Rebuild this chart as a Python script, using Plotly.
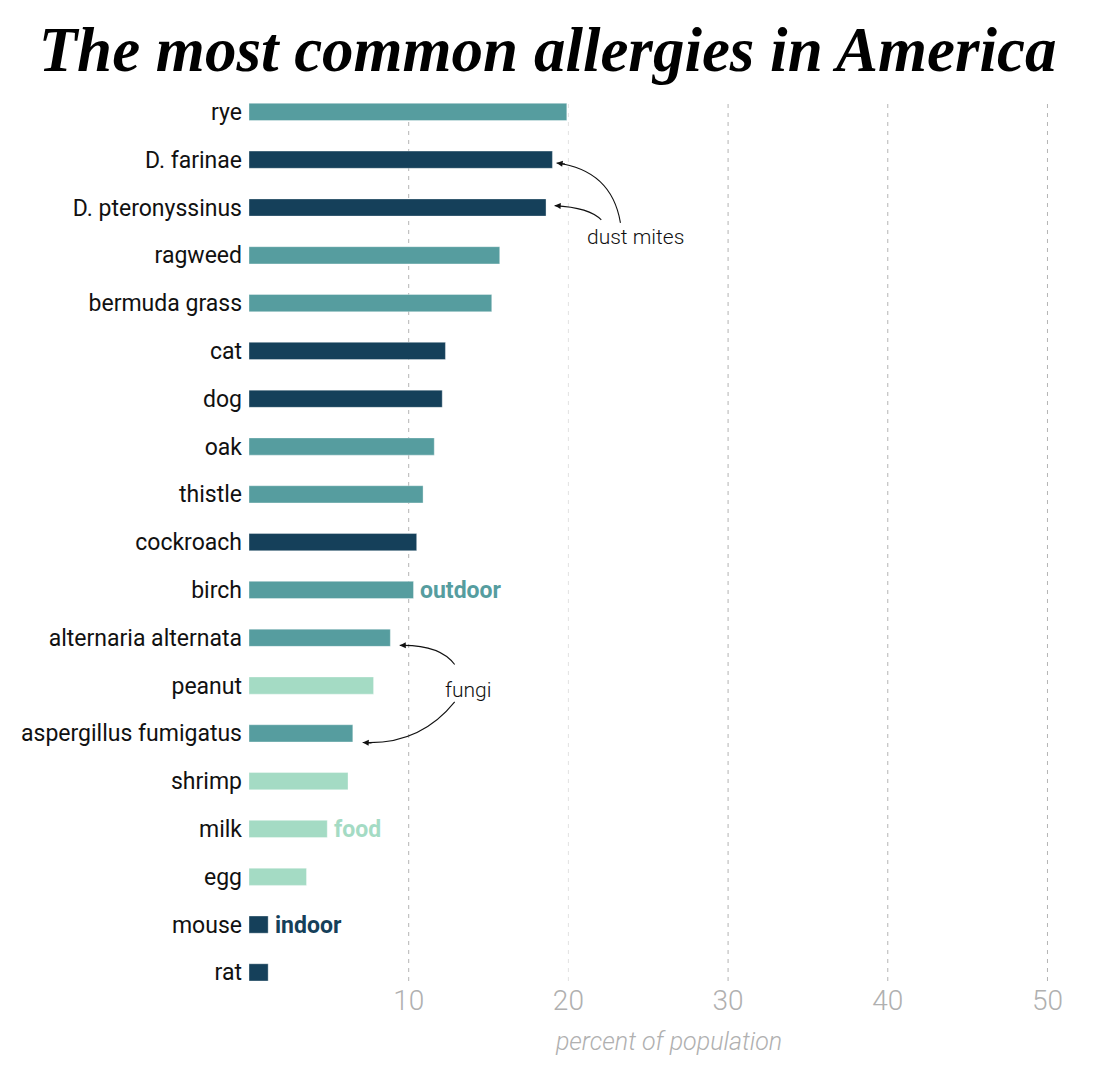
import plotly.graph_objects as go

# ---- data ----
categories = ["rye", "D. farinae", "D. pteronyssinus", "ragweed", "bermuda grass",
              "cat", "dog", "oak", "thistle", "cockroach", "birch",
              "alternaria alternata", "peanut", "aspergillus fumigatus", "shrimp",
              "milk", "egg", "mouse", "rat"]
values = [19.9, 19.0, 18.6, 15.7, 15.2, 12.3, 12.1, 11.6, 10.9, 10.5, 10.3,
          8.85, 7.8, 6.5, 6.2, 4.9, 3.6, 1.2, 1.2]
groups = ["outdoor", "indoor", "indoor", "outdoor", "outdoor", "indoor", "indoor",
          "outdoor", "outdoor", "indoor", "outdoor", "outdoor", "food", "outdoor",
          "food", "food", "food", "indoor", "indoor"]
group_names = ["outdoor", "indoor", "food"]
group_colors = {"outdoor": "#569d9f", "indoor": "#15405a", "food": "#a4dbc4"}
group_label_rows = {"outdoor": "birch", "food": "milk", "indoor": "mouse"}
x_ticks = [10, 20, 30, 40, 50]
grid_colors = ["#b4b4b4", "#e2e2e2", "#b4b4b4", "#b4b4b4", "#b4b4b4"]

LABEL_FONT = "Roboto, 'Noto Sans', sans-serif"
LIGHT_FONT = "Roboto, 'Open Sans', sans-serif"

fig = go.Figure()
for g in group_names:
    ys = [c for c, gg in zip(categories, groups) if gg == g]
    xs = [v for v, gg in zip(values, groups) if gg == g]
    fig.add_trace(go.Bar(
        x=xs, y=ys, orientation="h", width=0.36,
        marker=dict(color=group_colors[g], line=dict(color="rgba(255,255,255,0.35)", width=1)),
        showlegend=False, hoverinfo="x+y", name=g))

# gridlines
for t, c in zip(x_ticks, grid_colors):
    fig.add_shape(type="line", xref="x", yref="paper", x0=t, x1=t, y0=0, y1=0.987,
                  line=dict(color=c, width=1, dash="4px,5px"), layer="below")

# group labels at the end of bars
for g in group_names:
    row = group_label_rows[g]
    v = values[categories.index(row)]
    fig.add_annotation(x=v, y=row, text=f"<b>{g}</b>", showarrow=False,
                       xanchor="left", yanchor="middle", xshift=5, yshift=-1,
                       font=dict(family=LABEL_FONT, size=23, color=group_colors[g]))

# curved callouts: (start, control, end) in data units (x, category index)
callouts = [
    ((23.26, 2.32), (22.70, 1.22), (19.26, 1.07)),
    ((22.06, 2.26), (21.33, 2.00), (19.14, 1.96)),
    ((12.88, 11.56), (11.94, 11.14), (9.44, 11.16)),
    ((12.88, 12.34), (10.69, 13.25), (7.12, 13.19)),
]
for (sx, sy), (cx, cy), (ex, ey) in callouts:
    fig.add_shape(type="path", xref="x", yref="y",
                  path=f"M {sx},{sy} Q {cx},{cy} {ex},{ey}",
                  line=dict(color="#111111", width=1.1))
    # arrowhead tangent to curve end
    fig.add_annotation(x=ex, y=ey, ax=ex + (cx - ex) * 0.18, ay=ey + (cy - ey) * 0.18,
                       axref="x", ayref="y", xref="x", yref="y", text="",
                       showarrow=True, arrowhead=2, arrowsize=1.1, arrowwidth=1.1,
                       arrowcolor="#111111", standoff=0)

fig.add_annotation(x=24.2, y=2.62, text="dust mites", showarrow=False,
                   font=dict(family=LIGHT_FONT, size=21, color="#111111", weight=300))
fig.add_annotation(x=13.69, y=12.09, text="fungi", showarrow=False,
                   font=dict(family=LIGHT_FONT, size=21, color="#111111", weight=300))

fig.update_layout(
    width=1099, height=1072,
    margin=dict(l=241, r=18, t=80, b=99),
    paper_bgcolor="white", plot_bgcolor="white",
    title=dict(text="<b><i>The most common allergies in America</i></b>",
               x=0.491, xref="container", y=0.962, yref="container",
               xanchor="center", yanchor="middle",
               font=dict(family="'Liberation Serif', 'DejaVu Serif', serif", size=63, color="#000000")),
    bargap=0.6,
    xaxis=dict(range=[0, 52.6], tickvals=x_ticks, showgrid=False, zeroline=False,
               showline=False, ticks="",
               tickfont=dict(family=LIGHT_FONT, size=28, color="#b0b0b0", weight=300),
               title=dict(text="<i>percent of population</i>", standoff=16,
                          font=dict(family=LIGHT_FONT, size=25, color="#b0b0b0", weight=300))),
    yaxis=dict(categoryorder="array", categoryarray=categories, range=[18.18, -0.5],
               showgrid=False, zeroline=False, showline=False, ticks="",
               ticklabelstandoff=6,
               tickfont=dict(family=LABEL_FONT, size=23, color="#111111")),
)

fig.write_html("out.html")
